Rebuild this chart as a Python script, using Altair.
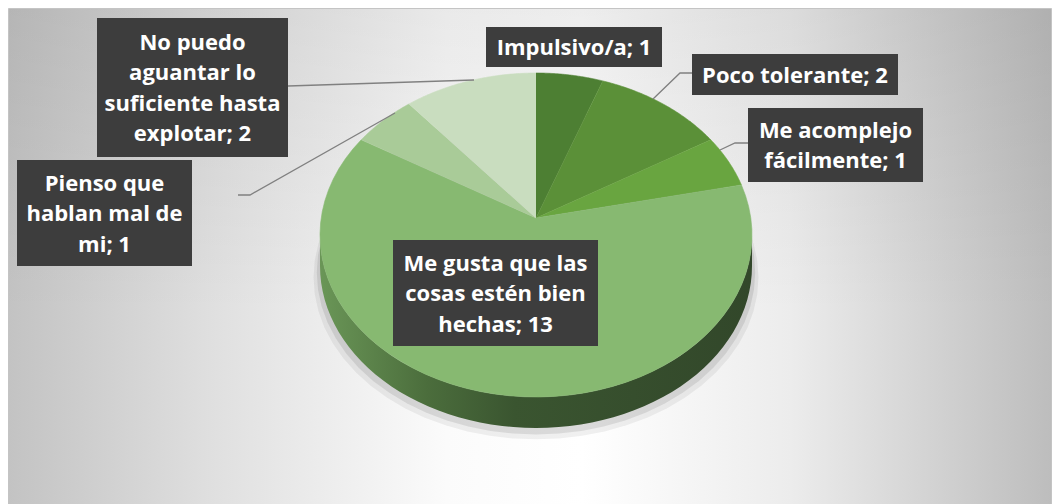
import textwrap
import altair as alt
import pandas as pd

# ---------------- data ----------------
categories = [
    "Impulsivo/a",
    "Poco tolerante",
    "Me acomplejo fácilmente",
    "Me gusta que las cosas estén bien hechas",
    "Pienso que hablan mal de mi",
    "No puedo aguantar lo suficiente hasta explotar",
]
values = [1, 2, 1, 13, 1, 2]

# ---------------- styles / layout ----------------
colors = ["#4d7f33", "#5b9038", "#69a540", "#87b971", "#a9cb98", "#c9ddbf"]
wrap_widths = [30, 30, 13, 17, 13, 16]
# label boxes (chart pixel coordinates)
box_x = [478, 684, 740, 385, 9, 89]
box_x2 = [654, 890, 915, 590, 184, 280]
box_y = [19, 46, 100, 232, 152, 10]
box_y2 = [59, 87, 174, 338, 258, 149]
# leader lines (chart pixel coordinates)
leader_id = [1, 1, 1, 2, 2, 2, 4, 4, 4, 5, 5]
leader_x = [645, 672, 684, 712, 727, 740, 230, 242, 387, 280, 466]
leader_y = [91, 65, 65, 142, 135, 135, 187, 187, 105, 78, 72]

W, H = 1044, 496
CX, CY, A, B = 528, 227, 216, 162      # top ellipse of the 3D pie
DEPTH = 31 / B                           # thickness in y units
APEX = 17 / B                            # perspective apex offset
N = 60
M = 60
LH = 30.5
FS = 22

xs = alt.Scale(domain=[-1, 1], range=[CX - A, CX + A], nice=False, zero=False)
ys = alt.Scale(domain=[-1, 1], range=[CY + B, CY - B], nice=False, zero=False)

pie_df = pd.DataFrame({"category": categories, "value": values, "order": list(range(len(values)))})

# background
bg_h = {
    "gradient": "linear",
    "x1": 0, "y1": 0, "x2": 1, "y2": 0,
    "stops": [
        {"offset": 0, "color": "#c3c3c3"},
        {"offset": 0.2, "color": "#e0e0e0"},
        {"offset": 0.42, "color": "#fbfbfb"},
        {"offset": 0.55, "color": "#ffffff"},
        {"offset": 0.75, "color": "#ececec"},
        {"offset": 1, "color": "#bdbdbd"},
    ],
}
bg_v = {
    "gradient": "linear",
    "x1": 0, "y1": 0, "x2": 0, "y2": 1,
    "stops": [
        {"offset": 0, "color": "rgba(0,0,0,0.07)"},
        {"offset": 0.6, "color": "rgba(0,0,0,0)"},
        {"offset": 1, "color": "rgba(0,0,0,0)"},
    ],
}
one = pd.DataFrame({"a": [0]})
background = alt.Chart(one).mark_rect(fill=bg_h, stroke="#c4c4c4", strokeWidth=1).encode(
    x=alt.value(0.5), x2=alt.value(W - 0.5), y=alt.value(0.5), y2=alt.value(H + 10)
)
background2 = alt.Chart(one).mark_rect(fill=bg_v).encode(
    x=alt.value(1), x2=alt.value(W - 1), y=alt.value(1), y2=alt.value(H + 10)
)


def ring(scale_x, shift, opacity, color):
    return (
        alt.Chart(pie_df)
        .transform_aggregate(total="sum(value)")
        .transform_calculate(k=f"sequence(0, {M + 1})")
        .transform_flatten(["k"])
        .transform_calculate(
            ang=f"2*PI*datum.k/{M}",
            px=f"{scale_x}*sin(datum.ang)",
            py=f"cos(datum.ang) - {shift}",
        )
        .mark_line(filled=True, fill=color, opacity=opacity, strokeWidth=0)
        .encode(
            x=alt.X("px:Q", scale=xs, axis=None),
            y=alt.Y("py:Q", scale=ys, axis=None),
            order="k:Q",
        )
    )


shadow1 = ring(1.03, DEPTH + 0.07, 0.06, "#000000")
shadow2 = ring(1.015, DEPTH + 0.04, 0.09, "#000000")

side_grad = {
    "gradient": "linear",
    "x1": 0, "y1": 0, "x2": 1, "y2": 0,
    "stops": [
        {"offset": 0, "color": "#6a9657"},
        {"offset": 0.25, "color": "#4b6d3c"},
        {"offset": 0.45, "color": "#3a5530"},
        {"offset": 1, "color": "#32472a"},
    ],
}
side = (
    alt.Chart(pie_df)
    .transform_aggregate(total="sum(value)")
    .transform_calculate(k=f"sequence(0, {2 * M + 2})")
    .transform_flatten(["k"])
    .transform_calculate(j=f"datum.k <= {M} ? datum.k : {2 * M + 1} - datum.k")
    .transform_calculate(ang=f"PI/2 + PI*datum.j/{M}")
    .transform_calculate(
        px="sin(datum.ang)",
        py=f"cos(datum.ang) - (datum.k <= {M} ? 0 : {DEPTH})",
    )
    .mark_line(filled=True, fill=side_grad, strokeWidth=0)
    .encode(
        x=alt.X("px:Q", scale=xs, axis=None),
        y=alt.Y("py:Q", scale=ys, axis=None),
        order="k:Q",
    )
)

color_scale = alt.Scale(domain=categories, range=colors)
pie = (
    alt.Chart(pie_df)
    .transform_joinaggregate(total="sum(value)")
    .transform_window(cum="sum(value)", sort=[alt.SortField("order")], frame=[None, 0])
    .transform_calculate(
        a0="2*PI*(datum.cum - datum.value)/datum.total",
        a1="2*PI*datum.cum/datum.total",
        k=f"sequence(0, {N + 1})",
    )
    .transform_flatten(["k"])
    .transform_calculate(ang=f"datum.a0 + (datum.a1 - datum.a0)*(datum.k - 1)/{N - 1}")
    .transform_calculate(
        px="datum.k == 0 ? 0 : sin(datum.ang)",
        py=f"datum.k == 0 ? {APEX} : cos(datum.ang)",
    )
    .mark_line(filled=True, strokeWidth=0.6, strokeJoin="round")
    .encode(
        x=alt.X("px:Q", scale=xs, axis=None),
        y=alt.Y("py:Q", scale=ys, axis=None),
        order="k:Q",
        detail="category:N",
        color=alt.Color("category:N", scale=color_scale, legend=None),
        stroke=alt.Stroke("category:N", scale=color_scale, legend=None),
    )
)

# labels
lab_df = pd.DataFrame({
    "category": categories,
    "value": values,
    "bx": box_x, "bx2": box_x2, "by": box_y, "by2": box_y2,
})
lines = [textwrap.wrap(f"{c}; {v}", w) for c, v, w in zip(categories, values, wrap_widths)]
lab_df["label"] = ["\n".join(ls) for ls in lines]
lab_df["nlines"] = [len(ls) for ls in lines]
lab_df["tx"] = (lab_df["bx"] + lab_df["bx2"]) / 2
lab_df["ty"] = (lab_df["by"] + lab_df["by2"]) / 2 - (lab_df["nlines"] - 1) * LH / 2 + 1

box_enc = dict(
    x=alt.X("bx:Q", scale=None, axis=None),
    x2="bx2:Q",
    y=alt.Y("by:Q", scale=None, axis=None),
    y2="by2:Q",
)
box_shadow = alt.Chart(lab_df).mark_rect(color="#000000", opacity=0.22, xOffset=3, yOffset=3).encode(**box_enc)
boxes = alt.Chart(lab_df).mark_rect(color="#3d3d3d").encode(**box_enc)
texts = alt.Chart(lab_df).mark_text(
    font="Open Sans", fontSize=FS, fontWeight="bold", color="white",
    lineBreak="\n", lineHeight=LH, align="center", baseline="middle",
).encode(
    x=alt.X("tx:Q", scale=None, axis=None),
    y=alt.Y("ty:Q", scale=None, axis=None),
    text="label:N",
)

lead_df = pd.DataFrame({"id": leader_id, "lx": leader_x, "ly": leader_y})
lead_df["k"] = range(len(lead_df))
leaders = alt.Chart(lead_df).mark_line(color="#808080", strokeWidth=1.3).encode(
    x=alt.X("lx:Q", scale=None, axis=None),
    y=alt.Y("ly:Q", scale=None, axis=None),
    detail="id:N",
    order="k:Q",
)

chart = (
    alt.layer(background, background2, shadow1, shadow2, side, pie, leaders, box_shadow, boxes, texts)
    .properties(width=W, height=H, padding=0, autosize=alt.AutoSizeParams(type="none"), background="white")
    .configure_view(stroke=None)
)

chart.save("out.html", embed_options={"renderer": "svg", "actions": False})
